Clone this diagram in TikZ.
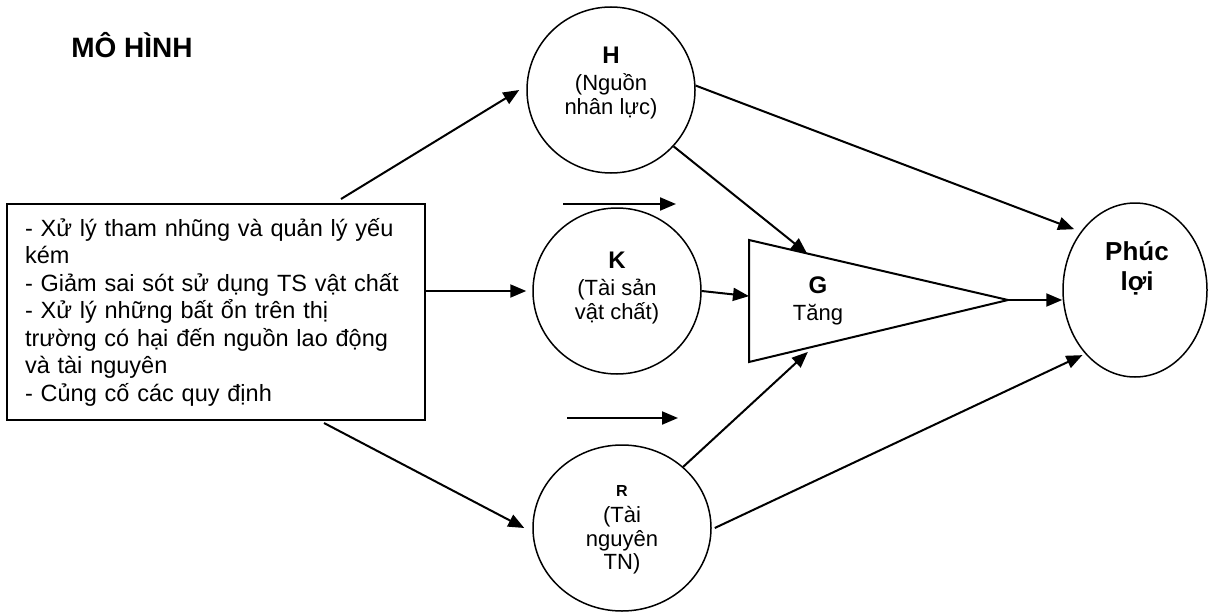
\documentclass[tikz,border=0pt]{standalone}
\usepackage{fontspec}
\setmainfont{Liberation Sans}
\usetikzlibrary{arrows.meta,shapes.geometric,positioning,calc}
\tikzstyle{circ}=[ellipse,draw,line width=1.5pt,minimum width=168pt,minimum height=166pt,inner sep=0pt]
\tikzstyle{actionbox}=[rectangle,draw,line width=2pt,minimum width=418pt,minimum height=216pt,text width=382pt,align=left,font=\fontsize{23.5}{27.5}\selectfont]
\tikzstyle{arr}=[line width=2pt,-{Triangle[length=16pt,width=13pt]}]
\tikzstyle{lbl}=[align=center,font=\fontsize{22}{23.5}\selectfont,inner sep=0pt]
\newcommand{\hd}[1]{{\bfseries\fontsize{24}{24}\selectfont #1}}

\begin{document}
\begin{tikzpicture}[x=1pt,y=-1pt]
\useasboundingbox (0,0) rectangle (1209,615);

%title
\node[font=\bfseries\fontsize{28}{30}\selectfont] (title) at (132,45) {MÔ HÌNH};

%measures
\node[actionbox] (actions) at (216,312) {- Xử lý tham nhũng và quản lý yếu\\kém\\- Giảm sai sót sử dụng TS vật chất\\- Xử lý những bất ổn trên thị\\trường có hại đến nguồn lao động\\và tài nguyên\\- Củng cố các quy định};

%factors
\node[circ] (H) at (611,90) {};
\node[circ] (K) at (617,291) {};
\node[circ,minimum width=178pt] (R) at (622,528) {};
\node[circ,minimum width=144pt,minimum height=174pt] (P) at (1135,290) {};

\node[lbl] (Ht) at ([yshift=7pt]H.center) {\hd{H}\\[4pt](Nguồn\\nhân lực)};
\node[lbl] (Kt) at ([yshift=3pt]K.center) {\hd{K}\\[4pt](Tài sản\\vật chất)};
\node[lbl] (Rt) at ([yshift=-2pt]R.center) {{\bfseries\fontsize{16}{18}\selectfont R}\\[3pt](Tài\\nguyên\\TN)};
\node[lbl,font=\bfseries\fontsize{26}{30}\selectfont] (Pt) at ([xshift=2pt,yshift=22pt]P.center) {Phúc\\lợi};

%growth
\coordinate (Ga) at (749,240);
\coordinate (Gb) at (749,362);
\coordinate (Gtip) at (1008,300);
\draw[line width=2pt] (Ga) -- (Gtip) -- (Gb) -- cycle;
\node[lbl] (Gt) at (818,301) {\hd{G}\\[4pt]Tăng};

%arrows
\coordinate (ft1) at (563,204);
\coordinate (ft2) at (676,204);
\coordinate (fb1) at (567,418);
\coordinate (fb2) at (678,418);
\draw[arr] (ft1) -- (ft2);
\draw[arr] (fb1) -- (fb2);

\draw[arr] ([xshift=-85pt,yshift=4pt]actions.north east) -- ([xshift=-7pt]H.west);
\draw[arr] (actions.east |- K.west) -- ([xshift=-6pt]K.west);
\draw[arr] ([xshift=-102pt,yshift=-2pt]actions.south east) -- ([xshift=-8pt]R.west);

\draw[arr] (H.-42) -- ($(Ga)!0.224!(Gtip)$);
\draw[arr] (K.east) -- ($(Ga)!0.46!(Gb)$);
\draw[arr,shorten >=8pt] (R.45) -- ($(Gb)!0.25!(Gtip)$);
\draw[arr] (Gtip) -- (Gtip -| P.west);
\draw[arr,shorten >=7pt] (H.3) -- (P.133);
\draw[arr,shorten >=3pt] ([xshift=3pt]R.east) -- (P.232);

\end{tikzpicture}
\end{document}
